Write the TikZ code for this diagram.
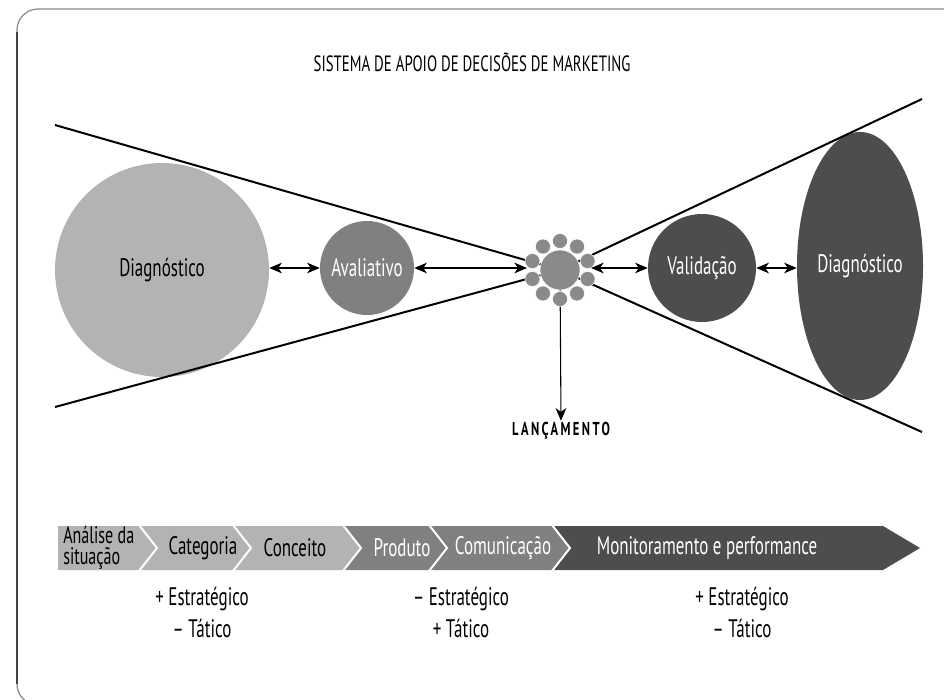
\documentclass[tikz,border=0pt]{standalone}
\usepackage{fontspec}
\setmainfont{PT Sans}[FakeStretch=0.67]
\usetikzlibrary{arrows.meta,shapes.geometric,calc}
\definecolor{lightgr}{HTML}{B3B3B3}
\definecolor{midgr}{HTML}{808080}
\definecolor{darkgr}{HTML}{4D4D4D}
\definecolor{hubgr}{HTML}{8A8A8A}
\definecolor{framegr}{HTML}{444444}
\definecolor{frametop}{HTML}{888888}
\begin{document}
\begin{tikzpicture}[x=0.75pt,y=-0.75pt,
  blob/.style={circle,inner sep=0pt,draw=none},
  lbl/.style={font=\fontsize{19}{21}\selectfont},
  barlbl/.style={font=\fontsize{19}{15}\selectfont,inner sep=0pt},
  botlbl/.style={font=\fontsize{19}{21}\selectfont,inner sep=0pt},
  xline/.style={line width=1.5pt,black},
  ptip/.tip={Stealth[length=9.5pt,width=8pt,inset=2.8pt]},
  dbl/.style={line width=0.8pt,{ptip}-{ptip}},
  sep/.style={white,line width=1.5pt}]
\useasboundingbox (0,0) rectangle (944,699);
\clip (0,0) rectangle (944,699);

% outer frame: lighter top edge, darker left edge
\draw[frametop,line width=0.9pt,rounded corners=15.75pt] (17,9) rectangle (990,705);
\draw[framegr,line width=0.9pt] (17,32) -- (17,684);

% title
\node[font=\fontsize{16.6}{19}\selectfont] (title) at (472,62) {SISTEMA DE APOIO DE DECISÕES DE MARKETING};

% main stages
\node[blob,fill=lightgr,minimum size=160.5pt,lbl] (diagL) at (162,270) {Diagnóstico};
\node[blob,fill=midgr,minimum size=70.5pt,lbl,text=white] (aval) at (367,268) {Avaliativo};
\node[blob,fill=darkgr,minimum size=81pt,lbl,text=white] (valid) at (702,268) {Validação};
\node[ellipse,inner sep=0pt,fill=darkgr,minimum width=94.5pt,minimum height=201pt,lbl,text=white] (diagR) at (860,266) {Diagnóstico};

% funnel lines meeting at the hub
\coordinate (hubc) at (560,270);
\coordinate (ulA) at (55,125);
\coordinate (llA) at (55,407);
\coordinate (urA) at (922,99);
\coordinate (lrA) at (922,432);
\draw[xline] (ulA) -- (hubc);
\draw[xline] (llA) -- (hubc);
\draw[xline] (urA) -- (hubc);
\draw[xline] (lrA) -- (hubc);

% launch output
\node[font=\bfseries\fontsize{14}{16}\selectfont\addfontfeature{LetterSpace=13},inner sep=1pt] (launch) at (561,431) {LANÇAMENTO};
\draw[line width=0.8pt,-{ptip}] (hubc) -- (launch.north);

% hub cluster
\foreach \a [count=\i] in {90,126,...,414}
  \node[blob,fill=hubgr,draw=white,line width=0.4pt,minimum size=11.25pt] (sat\i) at ($(hubc)+(\a:29)$) {};
\node[blob,fill=hubgr,draw=white,line width=0.4pt,minimum size=30pt] (hub) at (hubc) {};

% two-way links
\coordinate (hubW) at (527,268);
\coordinate (hubE) at (591,268);
\draw[dbl] (aval.west -| diagL.east) -- (aval.west);
\draw[dbl] (aval.east) -- (hubW);
\draw[dbl] (hubE) -- (valid.west);
\draw[dbl] (valid.east) -- (valid.east -| diagR.west);

% process bar
\fill[lightgr] (58,526) -- (343,526) -- (361,548) -- (343,570) -- (58,570) -- cycle;
\fill[midgr] (343,526) -- (552,526) -- (570,548) -- (552,570) -- (343,570) -- (361,548) -- cycle;
\fill[darkgr] (552,526) -- (883,526) -- (920,548) -- (883,570) -- (552,570) -- (570,548) -- cycle;
\foreach \b in {139,233,343,429,552}
  \draw[sep] (\b,525) -- (\b+18,548) -- (\b,571);

\node[barlbl,font=\fontsize{18}{16}\selectfont,align=left,anchor=west] (analise) at (63,548) {Análise da\\situação};
\node[barlbl] (categ) at (203,548) {Categoria};
\node[barlbl] (conc) at (295,548) {Conceito};
\node[barlbl,text=white] (prod) at (402,548) {Produto};
\node[barlbl,text=white] (comun) at (503,548) {Comunicação};
\node[barlbl,text=white] (monit) at (707,548) {Monitoramento e performance};

% strategic / tactical weight
\node[botlbl] (e1) at (202,599) {+ Estratégico};
\node[botlbl] (t1) at (202,629) {– Tático};
\node[botlbl] (e2) at (461,599) {– Estratégico};
\node[botlbl] (t2) at (461,629) {+ Tático};
\node[botlbl] (e3) at (742,599) {+ Estratégico};
\node[botlbl] (t3) at (742,629) {– Tático};
\end{tikzpicture}
\end{document}
